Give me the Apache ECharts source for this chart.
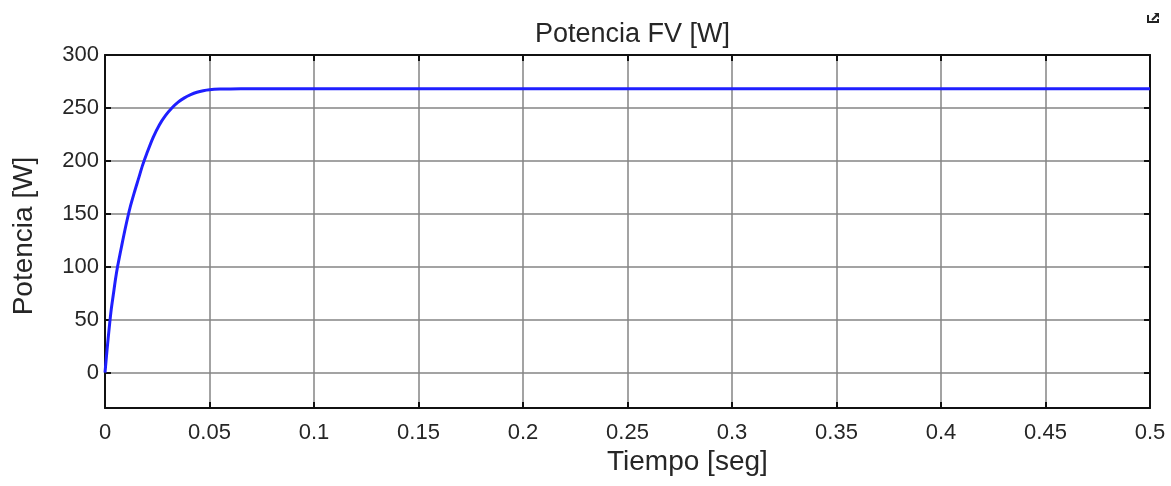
<!DOCTYPE html>
<html>
<head>
<meta charset="utf-8">
<script src="https://cdn.jsdelivr.net/npm/echarts@6/dist/echarts.min.js"></script>
<style>
  html, body { margin: 0; padding: 0; background: #fff; }
  #chart { width: 1171px; height: 486px; }
</style>
</head>
<body>
<div id="chart"></div>
<script>
// PV power during start-up: time [s] and power [W]
const tiempo   = [0, 0.001, 0.002, 0.003, 0.004, 0.005, 0.006, 0.008, 0.010, 0.012, 0.014, 0.016, 0.018, 0.020, 0.023, 0.026, 0.029, 0.032, 0.035, 0.038, 0.041, 0.044, 0.047, 0.050, 0.055, 0.060, 0.070, 0.100, 0.200, 0.300, 0.400, 0.500];
const potencia = [0, 22, 42, 60, 74, 88, 100, 120, 139, 156, 170, 183, 196, 207, 222, 234, 243, 250, 255.5, 259.5, 262.5, 264.8, 266.3, 267.2, 267.8, 268, 268.2, 268.2, 268.2, 268.2, 268.2, 268.2];

// Axis tick values
const yTicks = [0, 50, 100, 150, 200, 250, 300];
const xMin = 0, xMax = 0.5, xStep = 0.05;
const yMin = -100 / 3, yMax = 300;

const FONT = 'Liberation Sans, Arial, Helvetica, sans-serif';
const TXT = '#262626';

const chart = echarts.init(document.getElementById('chart'), null, { renderer: 'canvas' });

const fmtX = v => String(Number(v.toFixed(2)));

chart.setOption({
  animation: false,
  backgroundColor: '#ffffff',
  grid: { left: 105, right: 21, top: 55, bottom: 78, containLabel: false },
  title: {
    text: 'Potencia FV [W]',
    left: 627.5, top: 16, textAlign: 'center',
    textStyle: { fontFamily: FONT, fontSize: 27, fontWeight: 'normal', color: TXT }
  },
  xAxis: [
    {
      type: 'value', min: xMin, max: xMax, interval: xStep, position: 'bottom',
      axisLine: { show: true, onZero: false, lineStyle: { color: '#111', width: 2 } },
      axisTick: { show: true, inside: true, length: 6, lineStyle: { color: '#111', width: 2 } },
      axisLabel: { formatter: fmtX, margin: 14, fontFamily: FONT, fontSize: 22, color: TXT },
      splitLine: { show: true, lineStyle: { color: '#858585', width: 1.5 } }
    },
    {
      type: 'value', min: xMin, max: xMax, interval: xStep, position: 'top',
      axisLine: { show: true, onZero: false, lineStyle: { color: '#111', width: 2 } },
      axisTick: { show: true, inside: true, length: 6, lineStyle: { color: '#111', width: 2 } },
      axisLabel: { show: false },
      splitLine: { show: false }
    }
  ],
  yAxis: [
    {
      type: 'value', min: yMin, max: yMax, position: 'left',
      axisLine: { show: true, onZero: false, lineStyle: { color: '#111', width: 2 } },
      axisTick: { show: true, inside: true, length: 6, customValues: yTicks, lineStyle: { color: '#111', width: 2 } },
      axisLabel: { customValues: yTicks, margin: 6, fontFamily: FONT, fontSize: 22, color: TXT },
      splitLine: { show: true, lineStyle: { color: '#858585', width: 1.5 } }
    },
    {
      type: 'value', min: yMin, max: yMax, position: 'right',
      axisLine: { show: true, onZero: false, lineStyle: { color: '#111', width: 2 } },
      axisTick: { show: true, inside: true, length: 6, customValues: yTicks, lineStyle: { color: '#111', width: 2 } },
      axisLabel: { show: false },
      splitLine: { show: false }
    }
  ],
  series: [{
    type: 'line',
    xAxisIndex: 0, yAxisIndex: 0,
    data: tiempo.map((t, i) => [t, potencia[i]]),
    smooth: 0.3,
    showSymbol: false,
    lineStyle: { color: '#1f1fff', width: 3 },
    z: 5
  }],
  graphic: [
    {
      type: 'text', left: 607, top: 448,
      style: { text: 'Tiempo [seg]', font: '28px ' + FONT, fill: TXT }
    },
    {
      type: 'text', x: 10, y: 236, rotation: Math.PI / 2, originX: 0, originY: 0,
      style: { text: 'Potencia [W]', font: '28px ' + FONT, fill: TXT, align: 'center', verticalAlign: 'top' }
    },
    {
      // small export icon in the top-right corner
      type: 'group', x: 1147, y: 13,
      children: [
        { type: 'polyline', shape: { points: [[1, 2], [1, 9], [11, 9], [11, 6]] }, style: { stroke: '#222', lineWidth: 2, fill: null } },
        { type: 'line', shape: { x1: 5, y1: 7, x2: 10, y2: 2 }, style: { stroke: '#222', lineWidth: 2 } },
        { type: 'polygon', shape: { points: [[7, 0], [12, 0], [12, 5]] }, style: { fill: '#222' } }
      ]
    }
  ]
});
</script>
</body>
</html>
